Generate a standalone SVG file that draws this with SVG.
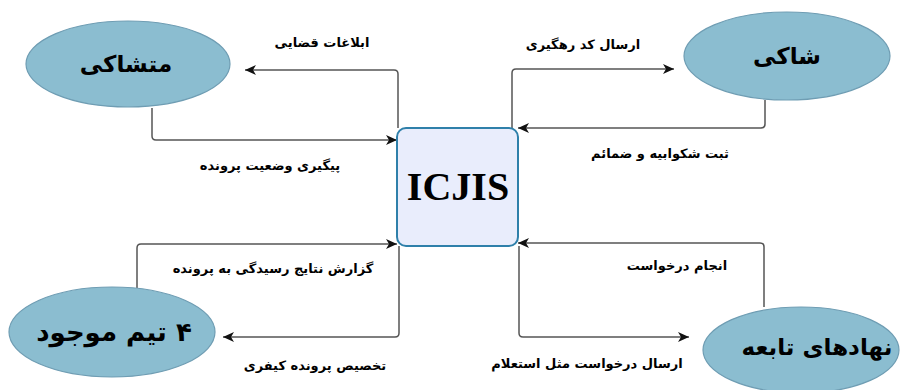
<svg xmlns="http://www.w3.org/2000/svg" width="900" height="390" viewBox="0 0 900 390">
<style>
.node ellipse{fill:#8bbdd0;stroke:#6f9db3;stroke-width:1.2}
.nt{font-family:"DejaVu Sans",sans-serif;font-weight:bold;fill:#000;text-anchor:middle;direction:rtl}
.lbl{font-family:"DejaVu Sans",sans-serif;font-weight:bold;font-size:13px;fill:#000;text-anchor:middle;direction:rtl}
.conn path{fill:none;stroke:#555;stroke-width:1.5;marker-end:url(#ah)}
</style>
<defs>
<marker id="ah" markerWidth="12" markerHeight="10" refX="11" refY="5" orient="auto" markerUnits="userSpaceOnUse">
<path d="M0,0 L11,5 L0,10 L3,5 z" fill="#111"/>
</marker>
</defs>
<rect width="900" height="390" fill="#fff"/>
<g class="conn" id="connectors">
<path d="M398,128 V74 Q398,70 394,70 H245"/>
<path d="M152,108 V136 Q152,140 156,140 H397"/>
<path d="M512,128 V73 Q512,69 516,69 H674"/>
<path d="M765,100 V124 Q765,128 761,128 H518"/>
<path d="M137,288 V248 Q137,244 141,244 H397"/>
<path d="M399,246 V333 Q399,337 395,337 H223"/>
<path d="M764,307 V247 Q764,243 760,243 H518"/>
<path d="M519,246 V333 Q519,337 523,337 H689"/>
</g>
<g id="icjis">
<rect x="397" y="128" width="121" height="118" rx="9" fill="#e9edfc" stroke="#2f80aa" stroke-width="2"/>
<text x="458" y="200" font-family="Liberation Serif,serif" font-weight="bold" font-size="40" text-anchor="middle">ICJIS</text>
</g>
<g id="motashaki" class="node">
<ellipse cx="128" cy="64" rx="102" ry="43"/>
<text class="nt" x="126" y="72" font-size="23">متشاکی</text>
</g>
<g id="shaki" class="node">
<ellipse cx="787" cy="56" rx="103" ry="44"/>
<text class="nt" x="787" y="64" font-size="23">شاکی</text>
</g>
<g id="team" class="node">
<ellipse cx="112" cy="332" rx="103" ry="45"/>
<text class="nt" x="114" y="341" font-size="26">۴ تیم موجود</text>
</g>
<g id="nahad" class="node">
<ellipse cx="801" cy="350" rx="98" ry="43"/>
<text class="nt" x="817" y="355" font-size="23">نهادهای تابعه</text>
</g>
<g id="labels">
<text class="lbl" x="322" y="47">ابلاغات قضایی</text>
<text class="lbl" x="270" y="170">پیگیری وضعیت پرونده</text>
<text class="lbl" x="583" y="49">ارسال کد رهگیری</text>
<text class="lbl" x="660" y="158">ثبت شکوابیه و ضمائم</text>
<text class="lbl" x="273" y="273">گزارش نتایج رسیدگی به پرونده</text>
<text class="lbl" x="315" y="370">تخصیص پرونده کیفری</text>
<text class="lbl" x="677" y="270">انجام درخواست</text>
<text class="lbl" x="587" y="368">ارسال درخواست مثل استعلام</text>
</g>
</svg>
